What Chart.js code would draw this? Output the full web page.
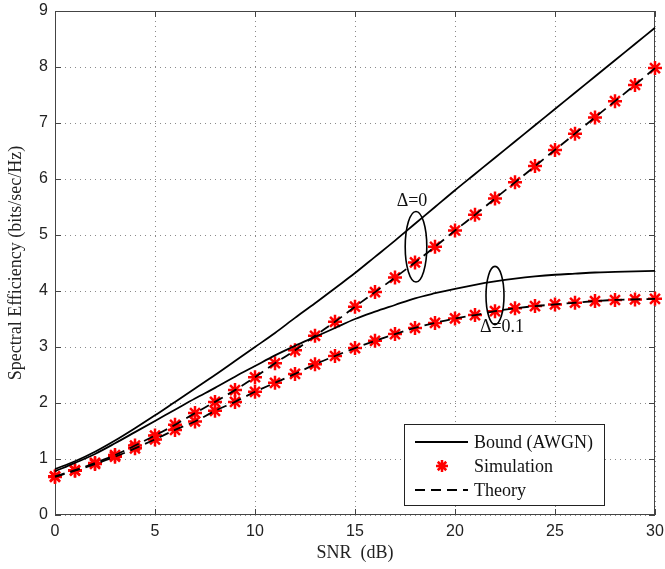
<!DOCTYPE html>
<html>
<head>
<meta charset="utf-8">
<script src="https://cdn.jsdelivr.net/npm/chart.js@4.4.1/dist/chart.umd.min.js"></script>
<style>
    html, body { margin: 0; padding: 0; background: #fff; }
    #wrap { width: 665px; height: 569px; }
</style>
</head>
<body>
<div id="wrap"><canvas id="seChart"></canvas></div>
<script>
// SNR points (dB)
const snr = [0, 1, 2, 3, 4, 5, 6, 7, 8, 9, 10, 11, 12, 13, 14, 15, 16, 17, 18, 19, 20,
             21, 22, 23, 24, 25, 26, 27, 28, 29, 30];

// Bound (AWGN), delta = 0 and delta = 0.1
const boundD0 = [0.82, 0.96, 1.13, 1.33, 1.55, 1.78, 2.02, 2.26, 2.50, 2.75, 3.00,
                 3.25, 3.52, 3.78, 4.05, 4.32, 4.61, 4.90, 5.20, 5.50, 5.80,
                 6.09, 6.38, 6.67, 6.96, 7.25, 7.54, 7.83, 8.12, 8.41, 8.70];
const boundD01 = [0.78, 0.93, 1.09, 1.28, 1.48, 1.68, 1.88, 2.08, 2.27, 2.47, 2.66,
                  2.85, 3.02, 3.18, 3.34, 3.50, 3.63, 3.75, 3.87, 3.96, 4.04,
                  4.11, 4.17, 4.22, 4.26, 4.29, 4.31, 4.33, 4.34, 4.35, 4.36];

// Simulation markers
const simD0 = [0.69, 0.80, 0.93, 1.07, 1.24, 1.42, 1.61, 1.82, 2.02, 2.23, 2.46,
               2.71, 2.94, 3.20, 3.45, 3.72, 3.98, 4.24, 4.51, 4.79, 5.08,
               5.36, 5.65, 5.94, 6.23, 6.52, 6.81, 7.10, 7.39, 7.68, 7.98];
const simD01 = [0.68, 0.79, 0.91, 1.04, 1.19, 1.35, 1.52, 1.67, 1.86, 2.02, 2.20,
                2.36, 2.52, 2.69, 2.84, 2.98, 3.11, 3.23, 3.34, 3.43, 3.51,
                3.57, 3.64, 3.69, 3.73, 3.76, 3.79, 3.82, 3.84, 3.85, 3.86];

// Theory (dashed) - lies on top of the simulation points
const theoryD0 = [0.69, 0.80, 0.93, 1.07, 1.24, 1.42, 1.61, 1.82, 2.02, 2.23, 2.46,
                  2.71, 2.94, 3.20, 3.45, 3.72, 3.98, 4.24, 4.51, 4.79, 5.08,
                  5.36, 5.65, 5.94, 6.23, 6.52, 6.81, 7.10, 7.39, 7.68, 7.98];
const theoryD01 = [0.68, 0.79, 0.91, 1.04, 1.19, 1.35, 1.52, 1.67, 1.86, 2.02, 2.20,
                   2.36, 2.52, 2.69, 2.84, 2.98, 3.11, 3.23, 3.34, 3.43, 3.51,
                   3.57, 3.64, 3.69, 3.73, 3.76, 3.79, 3.82, 3.84, 3.85, 3.86];

const xTicks = [0, 5, 10, 15, 20, 25, 30];
const yTicks = [0, 1, 2, 3, 4, 5, 6, 7, 8, 9];

const legendLabels = ['Bound (AWGN)', 'Simulation', 'Theory'];

// ellipses marking the two groups (data units: cx, cy, rx, ry) + label
const groupNotes = [
    { cx: 18.05, cy: 4.79, rx: 0.54, ry: 0.63, label: '\u0394=0', lx: 17.85, ly: 5.60 },
    { cx: 22.0, cy: 3.92, rx: 0.45, ry: 0.52, label: '\u0394=0.1', lx: 22.35, ly: 3.36 }
];

const SERIF = '"Liberation Serif", "Times New Roman", serif';
const SANS = '"Liberation Sans", Arial, sans-serif';
const DASH = [10, 6];

const toXY = ys => ys.map((y, i) => ({ x: snr[i], y }));

// frame, inward ticks, ellipses and legend
const decorPlugin = {
    id: 'decor',
    beforeDatasetsDraw(chart) {
        const { ctx, chartArea: a, scales: { x, y } } = chart;
        ctx.save();
        ctx.strokeStyle = '#444';
        ctx.lineWidth = 1;
        ctx.setLineDash([]);
        ctx.strokeRect(a.left + 0.5, a.top + 0.5, a.right - a.left - 1, a.bottom - a.top - 1);
        ctx.beginPath();
        xTicks.forEach(v => {
            const px = Math.round(x.getPixelForValue(v)) + 0.5;
            ctx.moveTo(px, a.bottom); ctx.lineTo(px, a.bottom - 6);
            ctx.moveTo(px, a.top); ctx.lineTo(px, a.top + 6);
        });
        yTicks.forEach(v => {
            const py = Math.round(y.getPixelForValue(v)) + 0.5;
            ctx.moveTo(a.left, py); ctx.lineTo(a.left + 6, py);
            ctx.moveTo(a.right, py); ctx.lineTo(a.right - 6, py);
        });
        ctx.stroke();
        ctx.restore();
    },
    afterDatasetsDraw(chart) {
        const { ctx, scales: { x, y } } = chart;
        ctx.save();
        // ellipses + labels
        ctx.strokeStyle = '#000';
        ctx.lineWidth = 1.6;
        ctx.fillStyle = '#111';
        ctx.font = '18px ' + SERIF;
        ctx.textAlign = 'center';
        ctx.textBaseline = 'middle';
        groupNotes.forEach(n => {
            const cx = x.getPixelForValue(n.cx), cy = y.getPixelForValue(n.cy);
            const rx = Math.abs(x.getPixelForValue(n.cx + n.rx) - cx);
            const ry = Math.abs(y.getPixelForValue(n.cy + n.ry) - cy);
            ctx.beginPath();
            ctx.ellipse(cx, cy, rx, ry, 0, 0, Math.PI * 2);
            ctx.stroke();
            ctx.fillText(n.label, x.getPixelForValue(n.lx), y.getPixelForValue(n.ly));
        });

        // legend box
        const bx = 404, by = 424, bw = 200, bh = 81;
        ctx.fillStyle = '#fff';
        ctx.fillRect(bx, by, bw, bh);
        ctx.strokeStyle = '#222';
        ctx.lineWidth = 1;
        ctx.strokeRect(bx + 0.5, by + 0.5, bw, bh);

        const rows = [442, 466, 490];
        ctx.strokeStyle = '#000';
        ctx.lineWidth = 1.8;
        ctx.beginPath();
        ctx.moveTo(415, rows[0]); ctx.lineTo(468, rows[0]);
        ctx.stroke();
        ctx.setLineDash(DASH);
        ctx.beginPath();
        ctx.moveTo(415, rows[2]); ctx.lineTo(468, rows[2]);
        ctx.stroke();
        ctx.setLineDash([]);
        // star marker
        ctx.strokeStyle = '#ff0000';
        ctx.lineWidth = 2.5;
        const sx = 442, sy = rows[1], r = 6;
        ctx.beginPath();
        for (let k = 0; k < 4; k++) {
            const ang = k * Math.PI / 4;
            ctx.moveTo(sx - r * Math.cos(ang), sy - r * Math.sin(ang));
            ctx.lineTo(sx + r * Math.cos(ang), sy + r * Math.sin(ang));
        }
        ctx.stroke();

        ctx.fillStyle = '#111';
        ctx.textAlign = 'left';
        legendLabels.forEach((t, i) => ctx.fillText(t, 474, rows[i] + 1));
        ctx.restore();
    }
};

const lineStyle = (data, dash) => ({
    data: toXY(data),
    borderColor: '#000',
    borderWidth: 1.8,
    borderDash: dash,
    pointRadius: 0,
    fill: false,
    tension: 0,
    cubicInterpolationMode: 'monotone',
    clip: false
});

const simStyle = data => ({
    data: toXY(data),
    showLine: false,
    pointStyle: 'star',
    pointRadius: 7,
    pointBorderWidth: 2.5,
    pointBorderColor: '#ff0000',
    pointBackgroundColor: '#ff0000',
    clip: false
});

const ctx = document.getElementById('seChart').getContext('2d');

new Chart(ctx, {
    type: 'line',
    data: {
        datasets: [
            { label: 'Bound (AWGN)', ...lineStyle(boundD0, []) },
            { label: 'Bound (AWGN) 0.1', ...lineStyle(boundD01, []) },
            { label: 'Theory', ...lineStyle(theoryD0, DASH) },
            { label: 'Theory 0.1', ...lineStyle(theoryD01, DASH) },
            { label: 'Simulation', ...simStyle(simD0) },
            { label: 'Simulation 0.1', ...simStyle(simD01) }
        ]
    },
    options: {
        responsive: true,
        maintainAspectRatio: false,
        animation: false,
        layout: { padding: { top: 11, right: 10, left: 0, bottom: 0 } },
        plugins: {
            legend: { display: false },
            tooltip: { enabled: false }
        },
        scales: {
            x: {
                type: 'linear',
                min: 0,
                max: 30,
                afterFit: s => { s.height = 54; s.paddingLeft = 0; s.paddingRight = 0; },
                afterBuildTicks: s => { s.ticks = xTicks.map(v => ({ value: v })); },
                grid: { color: '#8a8a8a', lineWidth: 1, drawTicks: false },
                border: { display: false, dash: [1, 4] },
                ticks: { color: '#222', font: { family: SANS, size: 16 }, padding: 7, maxRotation: 0 },
                title: {
                    display: true,
                    text: 'SNR  (dB)',
                    color: '#222',
                    font: { family: SERIF, size: 18 },
                    padding: { top: 0, bottom: 5 }
                }
            },
            y: {
                min: 0,
                max: 9,
                afterFit: s => { s.width = 55; s.paddingTop = 0; s.paddingBottom = 0; },
                afterBuildTicks: s => { s.ticks = yTicks.map(v => ({ value: v })); },
                grid: { color: '#8a8a8a', lineWidth: 1, drawTicks: false },
                border: { display: false, dash: [1, 4] },
                ticks: { color: '#222', font: { family: SANS, size: 16 }, padding: 7 },
                title: {
                    display: true,
                    text: 'Spectral Efficiency (bits/sec/Hz)',
                    color: '#222',
                    font: { family: SERIF, size: 18 },
                    padding: { top: 5, bottom: 0 }
                }
            }
        }
    },
    plugins: [decorPlugin]
});
</script>
</body>
</html>
